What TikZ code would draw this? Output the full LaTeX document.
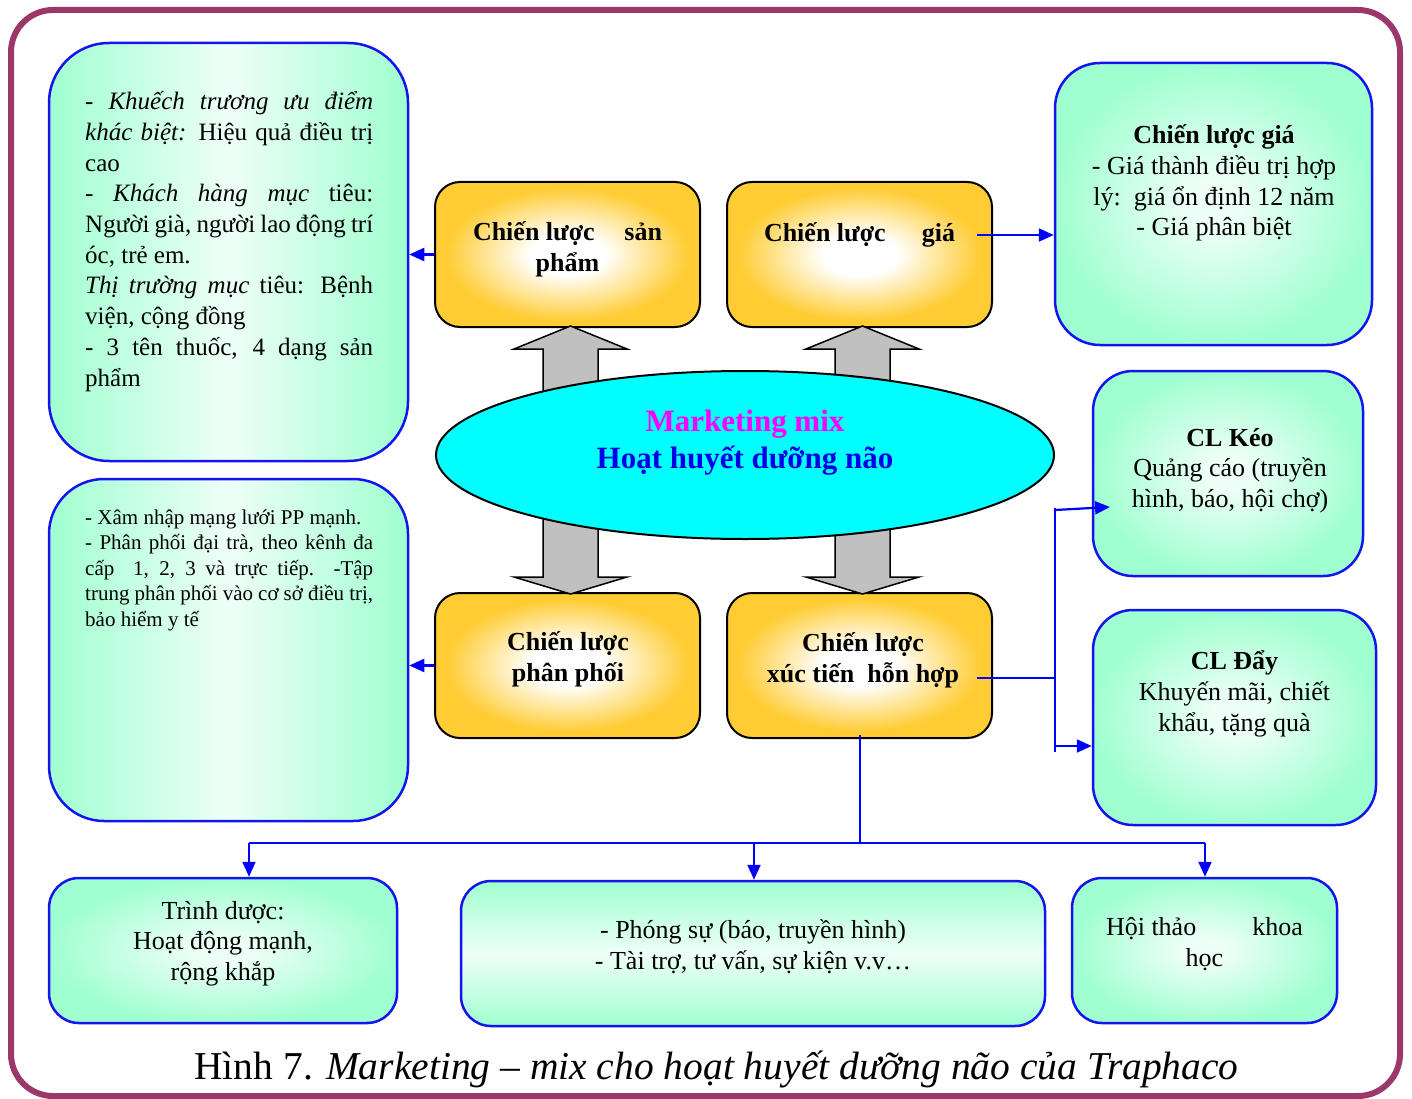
\documentclass[tikz,border=0pt]{standalone}
\usepackage{fontspec}
\setmainfont{Liberation Serif}
\usetikzlibrary{arrows.meta,shapes.geometric,calc}
\definecolor{mint}{RGB}{160,255,208}
\definecolor{mintlight}{RGB}{238,255,247}
\definecolor{ygold}{RGB}{255,204,51}
\definecolor{framecol}{RGB}{155,55,105}
\definecolor{garrowcol}{RGB}{192,192,192}
\definecolor{lineblue}{RGB}{0,0,255}
\definecolor{boxblue}{RGB}{20,20,240}
\definecolor{magtxt}{RGB}{255,0,255}
\definecolor{bluetxt}{RGB}{0,0,230}
\definecolor{ellcyan}{RGB}{0,255,255}
\pgfdeclareradialshading{yelshade}{\pgfpoint{0bp}{0bp}}{color(0bp)=(white); color(7bp)=(white); color(23bp)=(ygold); color(50bp)=(ygold)}
\pgfdeclareradialshading{mintrad}{\pgfpoint{0bp}{0bp}}{color(0bp)=(mintlight); color(4bp)=(mintlight); color(25bp)=(mint); color(50bp)=(mint)}
\begin{document}
\begin{tikzpicture}[x=1pt,y=-1pt,
  mbox/.style={draw=boxblue, line width=2.5pt, inner sep=0pt},
  mradial/.style={mbox, shade, shading=mintrad},
  mhoriz/.style={mbox, left color=mint, right color=mint, middle color=mintlight},
  mvert/.style={mbox, top color=mint, bottom color=mint, middle color=mintlight},
  ybox/.style={draw=black, line width=2pt, shade, shading=yelshade, rounded corners=25pt, minimum width=265pt, minimum height=145pt, inner sep=0pt},
  garrow/.style={draw=black, line width=1.5pt, fill=garrowcol, line join=miter},
  conn/.style={draw=lineblue, line width=2.2pt, -{Triangle[length=15pt,width=13pt]}},
  bline/.style={draw=lineblue, line width=2.2pt},
  txt/.style={inner sep=0pt, font=\fontsize{26}{30.7}\selectfont},
  ytxt/.style={inner sep=0pt, align=center, font=\fontsize{26}{31}\selectfont\bfseries},
]
\useasboundingbox (0,0) rectangle (1412,1099);
\draw[draw=framecol, line width=6pt, rounded corners=42pt] (11,10) rectangle (1400,1096);

% left boxes
\node[mhoriz, rounded corners=60pt, minimum width=359pt, minimum height=418pt] (lt) at (228.5,252) {};
\node[mhoriz, rounded corners=55pt, minimum width=359pt, minimum height=342pt] (lb) at (228.5,650) {};
% right boxes
\node[mradial, rounded corners=45pt, minimum width=317pt, minimum height=282pt] (rg) at (1213.5,204) {};
\node[mradial, rounded corners=40pt, minimum width=270pt, minimum height=205pt] (keo) at (1228,473.5) {};
\node[mradial, rounded corners=40pt, minimum width=283pt, minimum height=215pt] (day) at (1234.5,717.5) {};
% bottom boxes
\node[mradial, rounded corners=30pt, minimum width=348pt, minimum height=145pt] (b1) at (223,950.5) {};
\node[mvert, rounded corners=30pt, minimum width=584pt, minimum height=145pt] (b2) at (753,953.5) {};
\node[mradial, rounded corners=30pt, minimum width=265pt, minimum height=145pt] (b3) at (1204.5,950.5) {};

% yellow boxes
\node[ybox] (sp) at (567.5,254.5) {};
\node[ybox] (gia) at (859.5,254.5) {};
\node[ybox] (pp) at (567.5,665.5) {};
\node[ybox] (xt) at (859.5,665.5) {};

% gray block arrows
\draw[garrow] (570.5,326) -- (627,349) -- (598,349) -- (598,400) -- (543,400) -- (543,349) -- (514,349) -- cycle;
\draw[garrow] (862.5,326) -- (919,349) -- (890,349) -- (890,400) -- (835,400) -- (835,349) -- (806,349) -- cycle;
\draw[garrow] (543,505) -- (543,577) -- (514,577) -- (570.5,594) -- (627,577) -- (598,577) -- (598,505) -- cycle;
\draw[garrow] (835,505) -- (835,577) -- (806,577) -- (862.5,594) -- (919,577) -- (890,577) -- (890,505) -- cycle;

% ellipse
\node[ellipse, draw=black, line width=2pt, fill=ellcyan, minimum width=618pt, minimum height=168pt, inner sep=0pt] (mm) at (745,455) {};

% texts (anchor base = baseline of the last line)
\node[txt, anchor=base west, align=left, font=\fontsize{25}{30.7}\selectfont] (ltt) at (85,386) {%
\makebox[288pt][s]{- \textit{Khuếch trương ưu điểm}}\\
\makebox[288pt][s]{\textit{khác biệt:} Hiệu quả điều trị}\\
cao\\
\makebox[288pt][s]{- \textit{Khách hàng mục} tiêu:}\\
\makebox[288pt][s]{Người già, người lao động trí}\\
óc, trẻ em.\\
\makebox[288pt][s]{\textit{Thị trường mục} tiêu: Bệnh}\\
viện, cộng đồng\\
\makebox[288pt][s]{- 3 tên thuốc, 4 dạng sản}\\
phẩm};
\node[txt, anchor=base west, align=left, font=\fontsize{21}{25.5}\selectfont] (lbt) at (85,626) {%
- Xâm nhập mạng lưới PP mạnh.\\
\makebox[288pt][s]{- Phân phối đại trà, theo kênh đa}\\
\makebox[288pt][s]{cấp\ \ 1, 2, 3 và trực tiếp. -Tập}\\
\makebox[288pt][s]{trung phân phối vào cơ sở điều trị,}\\
bảo hiểm y tế};

\node[ytxt, anchor=base] (spt) at (567.5,271) {\makebox[189pt]{Chiến lược\hfill sản}\\phẩm};
\node[ytxt, anchor=base] (giat) at (859.5,241) {\makebox[191pt]{Chiến lược\hfill giá}};
\node[ytxt, anchor=base] (ppt) at (568,681) {Chiến lược\\phân phối};
\node[ytxt, anchor=base] (xtt) at (863,682) {Chiến lược\\xúc tiến\ \ hỗn hợp};

\node[inner sep=0pt, anchor=base, align=center, font=\fontsize{31}{37}\selectfont\bfseries] (mmt) at (745,468) {\textcolor{magtxt}{Marketing mix}\\\textcolor{bluetxt}{Hoạt huyết dưỡng não}};

\node[txt, anchor=base, align=center] (rgt) at (1214,236) {\textbf{Chiến lược giá}\\- Giá thành điều trị hợp\\lý:\ \ giá ổn định 12 năm\\- Giá phân biệt};
\node[txt, anchor=base, align=center] (keot) at (1230,507.5) {\textbf{CL Kéo}\\Quảng cáo (truyền\\hình, báo, hội chợ)};
\node[txt, anchor=base, align=center] (dayt) at (1234.5,731) {\textbf{CL Đẩy}\\Khuyến mãi, chiết\\khẩu, tặng quà};

\node[txt, anchor=base, align=center] (b1t) at (223,980.5) {Trình dược:\\Hoạt động mạnh,\\rộng khắp};
\node[txt, anchor=base, align=center] (b2t) at (753,969) {- Phóng sự (báo, truyền hình)\\- Tài trợ, tư vấn, sự kiện v.v…};
\node[txt, anchor=base, align=center] (b3t) at (1204.5,966) {\makebox[197pt]{Hội thảo\hfill khoa}\\học};

\node[inner sep=0pt, anchor=base, font=\fontsize{39.5}{45}\selectfont] (cap) at (716.5,1079) {Hình 7. \textit{Marketing – mix cho hoạt huyết dưỡng não của Traphaco}};

% connectors
\draw[conn] (sp.west) -- (sp.west -| lt.east);
\draw[conn] (pp.west) -- (pp.west -| lb.east);
\coordinate (giaout) at (977,235);
\draw[conn] (giaout) -- (giaout -| rg.west);
\coordinate (xtout) at (977,678);
\coordinate (jn) at (1055,678);
\coordinate (vtop) at (1055,508);
\coordinate (vbot) at (1055,752);
\draw[bline] (xtout) -- (jn);
\draw[bline] (vtop) -- (vbot);
\coordinate (keostart) at (1055,510);
\coordinate (keoin) at (1110,507);
\draw[conn] (keostart) -- (keoin);
\coordinate (daystart) at (1055,746);
\draw[conn] (daystart) -- (daystart -| day.west);
\coordinate (xtbot) at (860,735);
\coordinate (hb) at (860,843);
\draw[bline] (xtbot) -- (hb);
\coordinate (hl) at (249,843);
\coordinate (hr) at (1205,843);
\coordinate (hm) at (754,843);
\draw[bline] (hl) -- (hr);
\draw[conn] (hl) -- (hl |- b1.north);
\draw[conn] (hm) -- (hm |- b2.north);
\draw[conn] (hr) -- (hr |- b3.north);
\end{tikzpicture}
\end{document}
